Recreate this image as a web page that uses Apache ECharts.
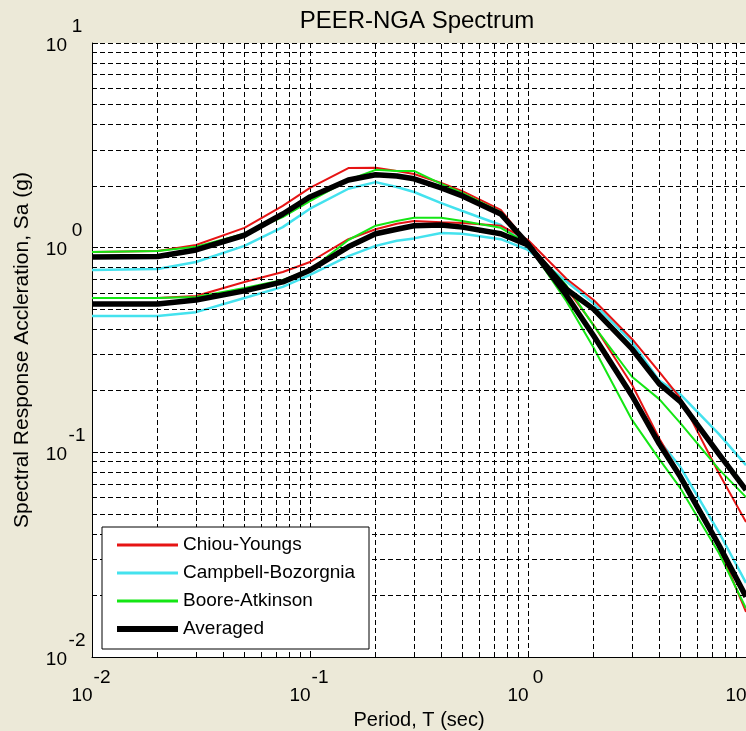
<!DOCTYPE html>
<html>
	<head>
		<meta charset="UTF-8">
		<title>PEER-NGA Spectrum</title>
		<script type="text/javascript" src="https://cdn.jsdelivr.net/npm/echarts@6/dist/echarts.min.js"></script>
		<style>
			html,body{margin:0;padding:0;background:#ece9d8;}
			#spectrum-char{width:746px;height:731px;}
		</style>
	</head>
	<body>
		<div id="spectrum-char"></div>
	</body>
</html>
<script type="text/javascript">
	// periods (sec) used by every curve
	var periods = [0.01, 0.02, 0.03, 0.05, 0.075, 0.1, 0.15, 0.2, 0.25, 0.3, 0.4, 0.5, 0.75, 1, 1.5, 2, 3, 4, 5, 7.5, 10];

	// scenario 1 (high short-period curves, steep long-period decay)
	var chiou1    = [0.953, 0.964, 1.03, 1.25, 1.60, 1.96, 2.45, 2.46, 2.37, 2.29, 2.07, 1.89, 1.53, 1.05, 0.634, 0.419, 0.214, 0.117, 0.0776, 0.0345, 0.0166];
	var campbell1 = [0.778, 0.787, 0.851, 1.02, 1.26, 1.55, 1.94, 2.09, 1.98, 1.87, 1.65, 1.51, 1.29, 1.01, 0.586, 0.371, 0.189, 0.114, 0.0847, 0.0408, 0.0230];
	var boore1    = [0.953, 0.964, 1.01, 1.17, 1.41, 1.69, 2.14, 2.40, 2.37, 2.37, 2.05, 1.85, 1.49, 1.03, 0.548, 0.324, 0.144, 0.0927, 0.0668, 0.0323, 0.0173];
	var average1  = [0.901, 0.905, 0.975, 1.15, 1.46, 1.77, 2.14, 2.27, 2.24, 2.17, 1.96, 1.79, 1.46, 1.04, 0.586, 0.371, 0.189, 0.110, 0.0759, 0.0353, 0.0197];

	// scenario 2 (lower short-period curves, slow long-period decay)
	var chiou2    = [0.568, 0.568, 0.581, 0.680, 0.760, 0.851, 1.10, 1.23, 1.31, 1.35, 1.33, 1.32, 1.28, 1.09, 0.705, 0.555, 0.358, 0.247, 0.184, 0.0793, 0.0457];
	var campbell2 = [0.463, 0.463, 0.484, 0.568, 0.643, 0.736, 0.910, 1.02, 1.08, 1.11, 1.18, 1.17, 1.10, 0.975, 0.683, 0.535, 0.346, 0.224, 0.192, 0.123, 0.0866];
	var boore2    = [0.568, 0.568, 0.574, 0.636, 0.695, 0.778, 1.09, 1.28, 1.35, 1.40, 1.40, 1.35, 1.25, 1.04, 0.653, 0.416, 0.234, 0.182, 0.139, 0.0828, 0.0604];
	var average2  = [0.530, 0.530, 0.555, 0.615, 0.680, 0.776, 1.01, 1.17, 1.23, 1.28, 1.29, 1.26, 1.17, 1.03, 0.627, 0.501, 0.320, 0.216, 0.177, 0.0982, 0.0655];

	var legendNames = ['Chiou-Youngs', 'Campbell-Bozorgnia', 'Boore-Atkinson', 'Averaged'];

	// tick labels: 10 with exponent
	var xTickExps = ['-2', '-1', '0', '1'];
	var yTickExps = ['-2', '-1', '0', '1'];
	// minor grid positions (2..9 x 10^k)
	var minorGrid = [0.02, 0.03, 0.04, 0.05, 0.06, 0.07, 0.08, 0.09, 0.2, 0.3, 0.4, 0.5, 0.6, 0.7, 0.8, 0.9, 2, 3, 4, 5, 6, 7, 8, 9];

	$ready(function(){
		spectrumChar();
	});

	function $ready(fn){
		if (document.readyState !== 'loading') fn();
		else document.addEventListener('DOMContentLoaded', fn);
	}

	function pairs(ys){
		var out = [];
		for (var i = 0; i < periods.length; i++) {
			out.push([periods[i], ys[i]]);
		}
		return out;
	}

	function expIndex(v){
		return Math.round(Math.log(v) / Math.LN10) + 2;
	}

	function spectrumChar(){
		var font = '"Liberation Sans", Arial, Helvetica, sans-serif';
		var dash = [5, 3];
		var charContent = document.getElementById('spectrum-char');
		var char = echarts.init(charContent);

		function curve(name, ys, color, width){
			return {
				name: name,
				type: 'line',
				data: pairs(ys),
				symbol: 'none',
				smooth: false,
				z: 2,
				lineStyle: { color: color, width: width },
				itemStyle: { color: color },
				emphasis: { disabled: true }
			};
		}

		var red = '#e61414', cyan = '#44e2ee', green = '#14e614', black = '#000000';

		var gridLines = {
			name: 'grid',
			type: 'line',
			data: [],
			z: 1,
			silent: true,
			markLine: {
				silent: true,
				symbol: ['none', 'none'],
				animation: false,
				label: { show: false },
				lineStyle: { color: '#000', type: dash, width: 1 },
				emphasis: { disabled: true },
				data: minorGrid.map(function(v){ return { xAxis: v }; })
					.concat(minorGrid.map(function(v){ return { yAxis: v }; }))
			}
		};

		var options = {
			animation: false,
			backgroundColor: '#ece9d8',
			textStyle: { fontFamily: font },
			graphic: [{
				type: 'text',
				x: 417,
				y: 9,
				style: {
					text: 'PEER-NGA Spectrum',
					fontSize: 24,
					fontFamily: font,
					fill: '#000',
					align: 'center',
					verticalAlign: 'top'
				}
			}],
			grid: {
				left: 92,
				top: 43,
				right: 0,
				bottom: 74,
				outerBoundsMode: 'none',
				containLabel: false,
				show: true,
				backgroundColor: '#fff',
				borderWidth: 0
			},
			legend: {
				data: [
					{ name: legendNames[0], lineStyle: { width: 3 } },
					{ name: legendNames[1], lineStyle: { width: 3 } },
					{ name: legendNames[2], lineStyle: { width: 3 } },
					{ name: legendNames[3], lineStyle: { width: 6 } }
				],
				z: 10,
				orient: 'vertical',
				left: 102,
				top: 527,
				itemWidth: 61,
				itemHeight: 14,
				itemGap: 8,
				padding: [8, 7, 10, 12],
				backgroundColor: '#fff',
				borderColor: '#000',
				borderWidth: 1,
				selectedMode: false,
				itemStyle: { opacity: 0 },
				textStyle: { fontSize: 19, lineHeight: 20, color: '#000', fontFamily: font, width: 179 }
			},
			xAxis: {
				type: 'log',
				logBase: 10,
				min: 0.01,
				max: 10,
				name: 'Period, T (sec)',
				nameLocation: 'middle',
				nameGap: 51,
				nameTextStyle: { fontSize: 20, color: '#000', fontFamily: font },
				axisLine: { lineStyle: { color: '#000', width: 1 } },
				axisTick: { inside: true, length: 6, lineStyle: { color: '#000' } },
				splitLine: { show: true, lineStyle: { color: '#000', type: dash, width: 1 } },
				axisLabel: {
					margin: 12,
					color: '#000',
					fontFamily: font,
					formatter: function(v){
						return '{pad| }{e|' + xTickExps[expIndex(v)] + '}\n{b|10}{pad| }';
					},
					rich: {
						b: { fontSize: 19, width: 20, align: 'right', lineHeight: 18, color: '#000', fontFamily: font },
						e: { fontSize: 19, width: 20, align: 'left', lineHeight: 18, color: '#000', fontFamily: font },
						pad: { fontSize: 19, width: 20, lineHeight: 18 }
					}
				}
			},
			yAxis: {
				type: 'log',
				logBase: 10,
				min: 0.01,
				max: 10,
				name: 'Spectral Response Accleration, Sa (g)',
				nameLocation: 'middle',
				nameGap: 59,
				nameTextStyle: { fontSize: 21, color: '#000', fontFamily: font },
				axisLine: { lineStyle: { color: '#000', width: 1 } },
				axisTick: { inside: true, length: 6, lineStyle: { color: '#000' } },
				splitLine: { show: true, lineStyle: { color: '#000', type: dash, width: 1 } },
				axisLabel: {
					margin: 5,
					color: '#000',
					fontFamily: font,
					padding: [0, 0, 14, 0],
					formatter: function(v){
						return '{pad| }{e|' + yTickExps[expIndex(v)] + '}\n{b|10}{pad| }';
					},
					rich: {
						b: { fontSize: 19, width: 20, align: 'right', lineHeight: 19, color: '#000', fontFamily: font },
						e: { fontSize: 19, width: 20, align: 'left', lineHeight: 19, color: '#000', fontFamily: font },
						pad: { fontSize: 19, width: 20, lineHeight: 19 }
					}
				}
			},
			series: [
				gridLines,
				curve(legendNames[1], campbell1, cyan, 2.5),
				curve(legendNames[1], campbell2, cyan, 2.5),
				curve(legendNames[0], chiou1, red, 2),
				curve(legendNames[0], chiou2, red, 2),
				curve(legendNames[2], boore1, green, 2),
				curve(legendNames[2], boore2, green, 2),
				curve(legendNames[3], average1, black, 5.5),
				curve(legendNames[3], average2, black, 5.5)
			]
		};
		char.setOption(options);
		window.addEventListener('resize', function(){
			char.resize();
		});
	}
</script>
